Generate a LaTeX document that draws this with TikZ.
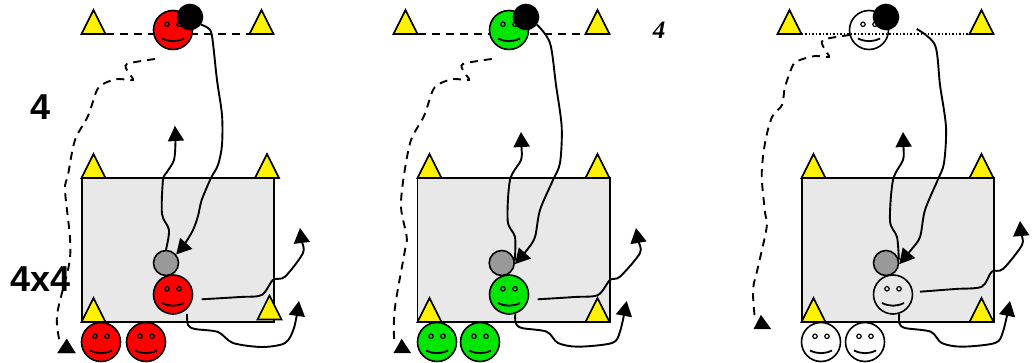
\documentclass[tikz,border=0pt]{standalone}
\usepackage{fontspec}
\setmainfont{Liberation Sans}
\newfontfamily\serifnum{Liberation Serif}
\usetikzlibrary{
  calc,
  arrows.meta
}
\definecolor{fieldgray}{HTML}{E8E8E8}
\definecolor{ballgray}{HTML}{999999}
\definecolor{teamgreen}{HTML}{00E600}
\tikzset{
  pics/cone/.style={code={
      \coordinate (-base) at (0, 0);
      \draw[fill=yellow, line width=1.6, line join=miter] (-12, 0) -- (0, -24) -- (12, 0) -- cycle;
    }},
  pics/smiley/.style={code={
      \node[circle, draw, line width=1.6, fill=#1, minimum size=39, inner sep=0] (-body) at (0, 0) {};
      \draw[line width=1.2] (-6, -5.7) circle (2.2) (6, -5.7) circle (2.2);
      \draw[line width=1.8] (-11, 8.5) to[bend right=25] (11, 8.5);
    }},
  ball/.style={circle, draw, line width=1.6, fill=black, minimum size=25, inner sep=0},
  grayball/.style={ball, fill=ballgray},
  run/.style={line width=1.9, -{Triangle[length=15pt,width=16pt]}},
  dashrun/.style={line width=1.9, dash pattern=on 8 off 6},
  tip/.style={draw=black, fill=black, line width=1.2, line join=miter}
}
\begin{document}
\begin{tikzpicture}[x=1pt, y=-1pt]
  \useasboundingbox (0, 0) rectangle (1034, 363);

  \fill[white] (0, 0) rectangle (1034, 363);

  \node[font=\bfseries\fontsize{36}{36}\selectfont] (labelfour) at (40.5, 107) {4};
  \node[font=\bfseries\fontsize{36}{36}\selectfont] (labelgame) at (40.5, 279) {4x4};
  \node[font=\serifnum\bfseries\itshape\fontsize{25}{25}\selectfont] (labelnote) at (659, 30) {4};

  \draw[fill=fieldgray, line width=1.7] (82, 178) rectangle (274, 322);
  \draw[fill=fieldgray, line width=1.7] (417.5, 178) rectangle (610, 322);
  \draw[fill=fieldgray, line width=1.7] (802, 178) rectangle (994, 322);

  \pic (coneAl) at (93.5, 34) {cone};
  \pic (coneAr) at (261.5, 34) {cone};
  \pic at (93.5, 178) {cone};
  \pic at (267, 178) {cone};
  \pic at (93.5, 322) {cone};
  \pic at (269.5, 319.5) {cone};
  \draw[dashrun] ($(coneAl-base) + (12, 0)$) -- ($(coneAr-base) + (-12, 0)$);

  \pic (coneBl) at (405.5, 34) {cone};
  \pic (coneBr) at (597.5, 34) {cone};
  \pic at (429.5, 178) {cone};
  \pic at (597.5, 178) {cone};
  \pic at (429.5, 322) {cone};
  \pic at (597.5, 322) {cone};
  \draw[dashrun] ($(coneBl-base) + (12, 0)$) -- ($(coneBr-base) + (-12, 0)$);

  \pic (coneCl) at (789.5, 34) {cone};
  \pic (coneCr) at (981.5, 34) {cone};
  \pic at (813.5, 178) {cone};
  \pic at (981.5, 178) {cone};
  \pic at (813.5, 322) {cone};
  \pic at (981.5, 322) {cone};
  \draw[line width=1.5, dotted] ($(coneCl-base) + (12, 0)$) -- ($(coneCr-base) + (-12, 0)$);

  \pic (keeperA) at (173, 30) {smiley=red};
  \pic (playerA) at (173, 294.5) {smiley=red};
  \pic (waitAa) at (101, 342) {smiley=red};
  \pic (waitAb) at (146, 342) {smiley=red};

  \pic (keeperB) at (509, 30) {smiley=teamgreen};
  \pic (playerB) at (509, 294.5) {smiley=teamgreen};
  \pic (waitBa) at (437, 342) {smiley=teamgreen};
  \pic (waitBb) at (480, 342) {smiley=teamgreen};

  \pic (keeperC) at (869, 30) {smiley=none};
  \pic (playerC) at (893, 294.5) {smiley=none};
  \pic (waitCa) at (821, 342) {smiley=none};
  \pic (waitCb) at (865, 342) {smiley=none};

  \node[ball] (ballA) at (190, 17) {};
  \node[ball] (ballB) at (526, 17) {};
  \node[ball] (ballC) at (886, 17) {};
  \node[grayball] (grayA) at (166, 263) {};
  \node[grayball] (grayB) at (501.7, 263) {};
  \node[grayball] (grayC) at (886, 263) {};

  \draw[run] plot[smooth, tension=0.5] coordinates {
    (ballA.-35) (208, 28) (212, 36) (217, 80) (222, 115) (222, 145) (218, 165) (211, 178)
    (201.7, 200) (198, 216) (193, 230) (184, 245) (grayA.40)};
  \draw[run] plot[smooth, tension=0.5] coordinates {
    (grayA.north) (169, 230) (162, 214) (163, 180) (167, 172) (174, 160) (175.5, 141) (175, 126)};
  \draw[run] plot[smooth, tension=0.5] coordinates {
    (201.7, 299.3) (240, 297) (261.7, 295) (273, 280) (285, 276.7) (303, 253) (301.5, 240) (300, 228)};
  \draw[run] plot[smooth, tension=0.5] coordinates {
    (187, 314) (188, 325) (195, 329) (218, 332) (233, 343) (262, 347) (285, 343) (294, 328) (299, 301)};
  \draw[dashrun] plot[smooth, tension=0.5] coordinates {
    (155, 59) (127, 64) (128, 72) (133, 80) (118, 79) (105, 83) (97, 90) (88, 116) (75, 140) (68, 175)
    (65, 190) (70, 238) (69, 265) (57, 315) (60, 343)};
  \fill[tip] (66.7, 340) -- (74.5, 352.5) -- (58.5, 352.5) -- cycle;
  \draw[tip] (66.7, 340) -- (74.5, 352.5) -- (58.5, 352.5) -- cycle;

  \draw[run] plot[smooth, tension=0.5] coordinates {
    (ballB.-35) (550, 43) (556, 85) (561.7, 127) (560, 163) (553, 180)
    (540, 210) (535, 237) (527, 250) (grayB.-5)};
  \draw[run] plot[smooth, tension=0.5] coordinates {
    (grayB.10) (515, 237) (507.7, 221) (510, 180) (521, 160) (521.5, 147) (521, 132)};
  \draw[run] plot[smooth, tension=0.5] coordinates {
    (537.7, 299.3) (575, 297) (598, 295) (610, 280) (620, 276.7) (640, 253) (638, 240) (636, 228)};
  \draw[run] plot[smooth, tension=0.5] coordinates {
    (playerB-body.-72) (515.7, 323) (521.7, 328) (546.7, 331.7) (558, 343) (578, 346.7) (612, 343) (620, 331.7) (626.7, 301)};
  \draw[dashrun] plot[smooth, tension=0.5] coordinates {
    (491.7, 59) (463, 64) (464, 72) (469, 80) (454, 79) (441, 83) (433, 90) (424, 116) (411, 140) (404, 175)
    (401, 207) (406.7, 237) (405, 250) (395, 307) (394, 337) (396, 343)};
  \draw[tip] (401.7, 340) -- (410, 352.5) -- (394.5, 352.5) -- cycle;

  \draw[run] plot[smooth, tension=0.5] coordinates {
    (916.7, 29) (935, 45) (940, 85) (946, 127) (944, 163) (937.7, 180)
    (925, 210) (920, 237) (911, 250) (grayC.-5)};
  \draw[run] plot[smooth, tension=0.5] coordinates {
    (grayC.15) (897, 237) (890, 221) (893, 180) (903, 160) (903.5, 147) (903, 132)};
  \draw[run] plot[smooth, tension=0.5] coordinates {
    (920, 291.7) (955, 289) (981.7, 286.7) (991.7, 271.7) (1003, 269) (1022, 245) (1021, 233) (1020, 221)};
  \draw[run] plot[smooth, tension=0.5] coordinates {
    (playerC-body.-72) (899.3, 323) (905, 328) (930.7, 331.7) (941.7, 343) (961.7, 346.7) (995, 343) (1003, 331.7) (1010, 301)};
  \draw[dashrun] plot[smooth, tension=0.5] coordinates {
    (850, 35) (823, 40) (825, 50) (829, 57) (815, 56) (800, 60) (793, 65) (785, 87) (782, 105) (772, 117) (765, 143)
    (761.7, 175) (765, 212) (766.7, 227) (758, 267) (753, 290) (755, 320)};
  \draw[tip] (761, 316) -- (770, 328.5) -- (754.5, 328.5) -- cycle;
\end{tikzpicture}
\end{document}
